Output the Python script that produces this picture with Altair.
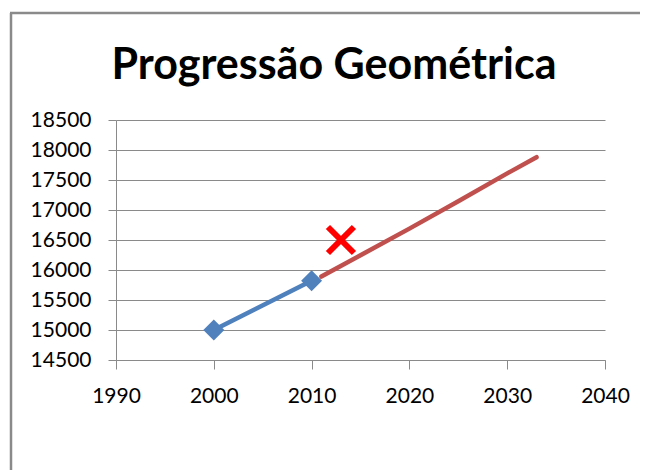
import altair as alt
import pandas as pd

title_text = "Progressão Geométrica"
x_ticks = [1990, 2000, 2010, 2020, 2030, 2040]
y_ticks = [14500, 15000, 15500, 16000, 16500, 17000, 17500, 18000, 18500]

blue_years = [2000, 2010]
blue_values = [15000, 15820]

red_years = [2011, 2015, 2020, 2025, 2030, 2033]
red_values = [15890, 16245, 16690, 17145, 17610, 17880]

cross_years = [2013]
cross_values = [16500]

blue_df = pd.DataFrame({"year": blue_years, "value": blue_values})
red_df = pd.DataFrame({"year": red_years, "value": red_values})
cross_df = pd.DataFrame({"year": cross_years, "value": cross_values})

GRID = "#8a8a8a"
FONT = "Lato"

x_scale = alt.Scale(domain=[1990, 2040], nice=False, zero=False)
y_scale = alt.Scale(domain=[14500, 18500], nice=False, zero=False)

x_axis = alt.Axis(values=x_ticks, format="d", title=None, grid=False, domain=True,
                  domainColor=GRID, tickColor=GRID, tickSize=9, labelPadding=16,
                  labelFlush=False, labelOverlap=False,
                  labelFont=FONT, labelFontSize=21, labelColor="black")
y_axis = alt.Axis(values=y_ticks, format="d", title=None, grid=True, gridColor=GRID,
                  domain=True, domainColor=GRID, tickColor=GRID, tickSize=8,
                  labelFlush=False, labelOverlap=False,
                  labelPadding=17, labelFont=FONT, labelFontSize=21, labelColor="black")

X = alt.X("year:Q", scale=x_scale, axis=x_axis)
Y = alt.Y("value:Q", scale=y_scale, axis=y_axis)

blue_line = alt.Chart(blue_df).mark_line(color="#4F81BD", strokeWidth=4.5, strokeCap="round").encode(x=X, y=Y)
blue_pts = alt.Chart(blue_df).mark_point(shape="diamond", filled=True, size=440, color="#4F81BD", opacity=1).encode(x=X, y=Y)
red_line = alt.Chart(red_df).mark_line(color="#C0504D", strokeWidth=4.5, strokeCap="round").encode(x=X, y=Y)
cross = alt.Chart(cross_df).mark_point(shape="M-1,-1L1,1M1,-1L-1,1", filled=False, size=676,
                                       color="#FF0000", strokeWidth=6, opacity=1,
                                       strokeCap="butt").encode(x=X, y=Y)

frame_data = alt.Data(values=[{}])
frame_left = alt.Chart(frame_data).mark_rule(color="#8a8a8a", strokeWidth=2.5).encode(
    x=alt.value(-105), y=alt.value(-107), y2=alt.value(360))
frame_top = alt.Chart(frame_data).mark_rule(color="#8a8a8a", strokeWidth=2.5).encode(
    x=alt.value(-106), x2=alt.value(530), y=alt.value(-107))

title_mark = alt.Chart(alt.Data(values=[{"t": title_text}])).mark_text(
    font=FONT, fontSize=43, fontWeight="bold", color="black", align="center",
    baseline="alphabetic").encode(text="t:N", x=alt.value(218), y=alt.value(-41))

chart = alt.layer(frame_left, frame_top, title_mark, blue_line, blue_pts, red_line, cross).properties(
    width=489, height=240,
    autosize=alt.AutoSizeParams(type="none"),
    padding={"left": 108, "top": 112, "right": 35, "bottom": 110},
).configure_view(stroke=None)

chart.save("out.html", embed_options={"renderer": "svg", "actions": False})
